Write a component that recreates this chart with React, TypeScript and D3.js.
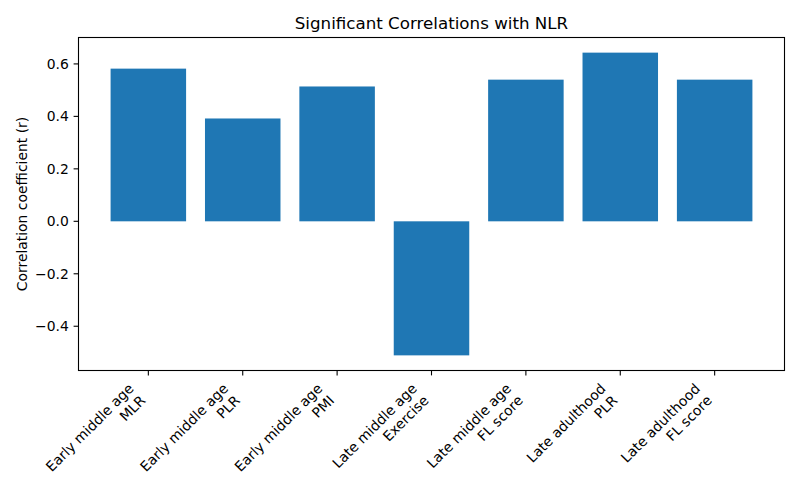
import React from "react";
import * as d3 from "d3";

// correlation results (grouping + marker, r value)
const groups = [
  "Early middle age",
  "Early middle age",
  "Early middle age",
  "Late middle age",
  "Late middle age",
  "Late adulthood",
  "Late adulthood",
];
const markers = ["MLR", "PLR", "PMI", "Exercise", "FL score", "PLR", "FL score"];
const rValues = [0.582, 0.392, 0.514, -0.511, 0.54, 0.643, 0.54];
const yTicks = [-0.4, -0.2, 0.0, 0.2, 0.4, 0.6];

const W = 800;
const H = 500;
const plot = { left: 78.5, right: 784.5, top: 37.5, bottom: 370.5 };
const FONT = "DejaVu Sans, sans-serif";
const BAR = "#1f77b4";

export default function App() {
  const n = rValues.length;
  const barW = 0.8;
  const xMin = -barW / 2;
  const xMax = n - 1 + barW / 2;
  const xPad = (xMax - xMin) * 0.05;
  const x = d3
    .scaleLinear()
    .domain([xMin - xPad, xMax + xPad])
    .range([plot.left, plot.right]);

  const yLo = Math.min(0, d3.min(rValues)!);
  const yHi = Math.max(0, d3.max(rValues)!);
  const yPad = (yHi - yLo) * 0.05;
  const y = d3
    .scaleLinear()
    .domain([yLo - yPad, yHi + yPad])
    .range([plot.bottom, plot.top]);

  const fs = 13.9;
  const lineH = fs * 1.2;
  const blockH = lineH + fs * 1.15;
  const c = Math.SQRT1_2;

  return (
    <svg
      width={W}
      height={H}
      style={{ position: "absolute", left: 0, top: 0, background: "#fff" }}
      fontFamily={FONT}
    >
      <rect width={W} height={H} fill="#fff" />

      {/* bars */}
      {rValues.map((v, i) => (
        <rect
          key={i}
          x={x(i - barW / 2)}
          width={x(i + barW / 2) - x(i - barW / 2)}
          y={y(Math.max(0, v))}
          height={Math.abs(y(v) - y(0))}
          fill={BAR}
        />
      ))}

      {/* frame */}
      <rect
        x={plot.left}
        y={plot.top}
        width={plot.right - plot.left}
        height={plot.bottom - plot.top}
        fill="none"
        stroke="#000"
        strokeWidth={1.1}
      />

      {/* y axis */}
      {yTicks.map((t) => (
        <g key={t} transform={`translate(${plot.left},${y(t)})`}>
          <line x1={-4.9} x2={0} stroke="#000" strokeWidth={1.1} />
          <text x={-9.7} dy="0.35em" textAnchor="end" fontSize={fs} fill="#000">
            {d3.format(".1f")(t).replace("-", "\u2212")}
          </text>
        </g>
      ))}
      <text
        transform={`translate(26.5,${(plot.top + plot.bottom) / 2}) rotate(-90)`}
        textAnchor="middle"
        fontSize={fs}
        fill="#000"
      >
        Correlation coefficient (r)
      </text>

      {/* x axis, labels rotated 45° and right aligned */}
      {rValues.map((_, i) => (
        <g key={i}>
          <line
            x1={x(i)}
            x2={x(i)}
            y1={plot.bottom}
            y2={plot.bottom + 4.9}
            stroke="#000"
            strokeWidth={1.1}
          />
          <text
            transform={`translate(${x(i) - blockH * c},${plot.bottom + 9.7}) rotate(-45)`}
            textAnchor="end"
            fontSize={fs}
            fill="#000"
          >
            <tspan x={0} y={fs * 0.95}>
              {groups[i]}
            </tspan>
            <tspan x={0} y={fs * 0.95 + lineH}>
              {markers[i]}
            </tspan>
          </text>
        </g>
      ))}

      <text
        x={(plot.left + plot.right) / 2}
        y={28.5}
        textAnchor="middle"
        fontSize={16.7}
        fill="#000"
      >
        Significant Correlations with NLR
      </text>
    </svg>
  );
}
